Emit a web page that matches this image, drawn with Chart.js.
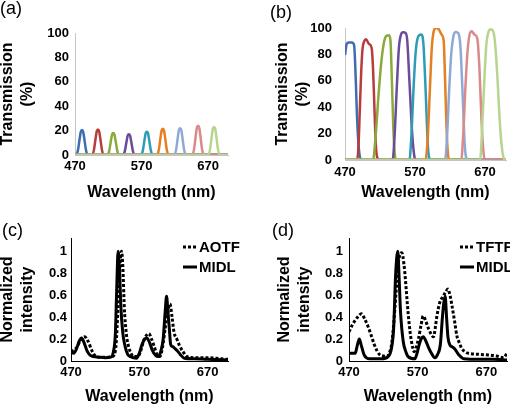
<!DOCTYPE html>
<html>
<head>
<meta charset="utf-8">
<script src="https://cdn.jsdelivr.net/npm/chart.js@4.4.0/dist/chart.umd.min.js"></script>
<style>
  body { margin: 0; background: #fff; width: 510px; height: 409px; position: relative; overflow: hidden;
         font-family: "Liberation Sans", Arial, sans-serif; }
  .panel { position: absolute; }
  .tag { position: absolute; font-size: 18px; line-height: 18px; color: #000; }
</style>
</head>
<body>
<canvas id="pa" class="panel" width="255" height="205" style="left:0;top:0"></canvas>
<canvas id="pb" class="panel" width="255" height="205" style="left:255px;top:0"></canvas>
<canvas id="pc" class="panel" width="255" height="204" style="left:0;top:205px"></canvas>
<canvas id="pd" class="panel" width="255" height="204" style="left:255px;top:205px"></canvas>
<div class="tag" style="left:0;top:-1px">(a)</div>
<div class="tag" style="left:270px;top:3px">(b)</div>
<div class="tag" style="left:2px;top:221px">(c)</div>
<div class="tag" style="left:272px;top:221px">(d)</div>
<script>
// tick labels
const xTicks = [470, 570, 670];
const transTicks = [0, 20, 40, 60, 80, 100];
const normTicks = [0, 0.2, 0.4, 0.6, 0.8, 1];

// one colour per filter band
const bandColors = ['#3e6db0', '#b83c3c', '#8aab3c', '#6c4c9a', '#2f9cb5',
                    '#e67e22', '#8fa9d6', '#d98b8b', '#b7d58f'];

// (a) AOTF transmission bands
const aotfWave = [
  [470, 472, 474.5, 477, 478.7, 480.5, 482.3, 484, 486.5, 489, 700],
  [470, 496, 498.5, 501, 502.7, 504.5, 506.3, 508, 510.5, 513, 700],
  [470, 519, 521.5, 524, 525.7, 527.5, 529.3, 531, 533.5, 536, 700],
  [470, 542.5, 545, 547.5, 549.2, 551, 552.8, 554.5, 557, 559.5, 700],
  [470, 569.5, 572, 574.5, 576.2, 578, 579.8, 581.5, 584, 586.5, 700],
  [470, 593.5, 596, 598.5, 600.2, 602, 603.8, 605.5, 608, 610.5, 700],
  [470, 619.5, 622, 624.5, 626.2, 628, 629.8, 631.5, 634, 636.5, 700],
  [470, 646.5, 649, 651.5, 653.2, 655, 656.8, 658.5, 661, 663.5, 700],
  [470, 670.5, 673, 675.5, 677.2, 679, 680.8, 682.5, 685, 687.5, 700]
];
const aotfTrans = [
  [0, 0, 4.1, 13.3, 19.1, 20.5, 19.1, 13.3, 4.1, 0, 0],
  [0, 0, 4.2, 13.7, 19.5, 21, 19.5, 13.7, 4.2, 0, 0],
  [0, 0, 3.6, 11.7, 16.7, 18, 16.7, 11.7, 3.6, 0, 0],
  [0, 0, 3.4, 11.1, 15.8, 17, 15.8, 11.1, 3.4, 0, 0],
  [0, 0, 3.8, 12.4, 17.7, 19, 17.7, 12.4, 3.8, 0, 0],
  [0, 0, 4.3, 14, 20, 21.5, 20, 14, 4.3, 0, 0],
  [0, 0, 4.4, 14.3, 20.5, 22, 20.5, 14.3, 4.4, 0, 0],
  [0, 0, 4.8, 15.6, 22.3, 24, 22.3, 15.6, 4.8, 0, 0],
  [0, 0, 4.6, 15, 21.4, 23, 21.4, 15, 4.6, 0, 0]
];

// (b) TFTF transmission bands
const tftfWave = [
  [470, 472.5, 475, 480, 483, 485.5, 487, 489, 490.5, 492, 496, 700],
  [470, 487, 489, 491, 493, 495, 497.5, 500, 504, 508, 510, 512, 514, 516, 520, 700],
  [470, 510, 514, 518, 522, 526, 529, 533, 535, 537, 539, 541, 543, 700],
  [470, 538, 541, 544, 547, 550, 553, 557, 559, 562, 566, 569, 571, 700],
  [470, 562, 565, 568, 571, 575, 579, 582, 585, 588, 590, 593, 700],
  [470, 585, 588, 591, 594, 597, 600, 604, 608, 611, 613, 615, 617, 619, 700],
  [470, 613, 616, 619, 622, 625, 628, 632, 635, 638, 641, 643, 646, 700],
  [470, 636, 639, 642, 645, 648, 651, 655, 659, 662, 665, 668, 670, 700],
  [470, 663, 666, 669, 672, 675, 678, 682, 685, 688, 691, 694, 697, 700]
];
const tftfTrans = [
  [79.5, 88, 89, 89, 87, 59, 35, 14, 5, 1, 0, 0],
  [0, 0, 8, 35, 65, 84, 90, 91.5, 88, 85, 70, 40, 12, 2, 0, 0],
  [0, 0, 20, 50, 75, 90, 94, 94.5, 90, 60, 25, 5, 0, 0],
  [0, 0, 20, 55, 85, 95, 96.7, 96, 90, 60, 20, 3, 0, 0],
  [0, 0, 20, 55, 82, 94, 95, 88, 55, 15, 2, 0, 0],
  [0, 0, 15, 50, 85, 98, 100, 99, 95, 90, 60, 25, 5, 0, 0],
  [0, 0, 20, 55, 82, 94, 97, 96, 85, 50, 12, 2, 0, 0],
  [0, 0, 20, 55, 82, 95, 97.5, 95, 92, 70, 30, 5, 0, 0],
  [0, 0, 25, 60, 88, 97, 99, 97, 85, 60, 30, 10, 1, 0]
];

// (c) spectra: AOTF vs MIDL
const cAotfWave = [470, 478, 484, 490, 495, 501, 507, 515, 525, 532, 536, 539, 542, 544, 546, 548, 551, 554, 558, 562,
                   568, 572, 576, 580, 584, 588, 592, 596, 600, 604, 608, 612, 615, 618, 621, 625, 629, 634, 640, 650,
                   670, 690, 700];
const cAotf = [0.085, 0.12, 0.19, 0.22, 0.18, 0.09, 0.04, 0.035, 0.035, 0.045, 0.15, 0.5, 0.9, 1.0, 0.85, 0.5, 0.25, 0.14, 0.07, 0.04,
               0.04, 0.09, 0.175, 0.23, 0.25, 0.2, 0.13, 0.06, 0.04, 0.12, 0.3, 0.45, 0.52, 0.4, 0.26, 0.2, 0.14, 0.085, 0.04, 0.03,
               0.03, 0.02, 0.015];
const cMidlWave = [470, 474, 478, 482, 485.5, 489, 493, 497, 503, 510, 520, 528, 532, 535, 537, 539, 541, 543, 546, 549,
                   553, 557, 566, 570, 574, 578, 581, 585, 589, 594, 598, 602, 605, 608, 610, 612, 614, 616, 619, 622,
                   626, 630, 636, 650, 670, 700];
const cMidl = [0.085, 0.07, 0.11, 0.18, 0.21, 0.17, 0.1, 0.06, 0.04, 0.035, 0.03, 0.035, 0.08, 0.25, 0.66, 1.0, 0.85, 0.5, 0.25, 0.14,
               0.06, 0.04, 0.025, 0.07, 0.15, 0.2, 0.21, 0.17, 0.1, 0.05, 0.04, 0.1, 0.2, 0.45, 0.59, 0.45, 0.3, 0.15, 0.13, 0.115,
               0.09, 0.06, 0.025, 0.02, 0.015, 0.01];

// (d) spectra: TFTF vs MIDL
const dTftfWave = [470, 475, 479, 484, 488, 493, 498, 503, 507, 511, 515, 520, 525, 529, 532, 535, 537, 540, 542, 545,
                   547, 550, 552, 556, 559, 561, 565, 568, 571, 575, 578, 582, 586, 590, 593, 596, 598, 602, 606, 610,
                   614, 617, 620, 624, 627, 631, 634, 640, 644, 660, 673, 685, 695, 700];
const dTftf = [0.265, 0.33, 0.37, 0.41, 0.43, 0.38, 0.31, 0.22, 0.145, 0.09, 0.055, 0.045, 0.04, 0.08, 0.15, 0.33, 0.5, 0.75, 0.9, 0.98,
               0.985, 0.88, 0.75, 0.44, 0.26, 0.175, 0.085, 0.13, 0.2, 0.33, 0.41, 0.36, 0.29, 0.24, 0.22, 0.32, 0.41, 0.53, 0.58, 0.62,
               0.655, 0.6, 0.5, 0.35, 0.23, 0.16, 0.115, 0.08, 0.07, 0.06, 0.055, 0.045, 0.03, 0.07];
const dMidlWave = [470, 479, 482, 485, 488, 492, 500, 517, 527, 532, 535, 538, 541, 543, 545, 549, 553, 556, 566, 569,
                   572, 575, 578, 582, 586, 590, 595, 599, 603, 606, 608, 610, 612, 614, 617, 620, 624, 630, 637, 660,
                   680, 700];
const dMidl = [0.07, 0.07, 0.14, 0.2, 0.14, 0.055, 0.02, 0.02, 0.04, 0.12, 0.3, 0.8, 1.0, 0.75, 0.45, 0.175, 0.08, 0.04, 0.02, 0.07,
               0.145, 0.2, 0.22, 0.18, 0.12, 0.07, 0.03, 0.06, 0.15, 0.4, 0.53, 0.59, 0.4, 0.22, 0.145, 0.13, 0.11, 0.055, 0.02, 0.015,
               0.015, 0.01];

Chart.defaults.font.family = '"Liberation Sans", Arial, Helvetica, sans-serif';
Chart.defaults.color = '#000';

const pts = (xs, ys) => xs.map((x, i) => ({ x: x, y: ys[i] }));

// small legend drawn inside the plot, top right
const cornerLegend = {
  id: 'cornerLegend',
  afterDraw(chart, args, opts) {
    const ctx = chart.ctx;
    ctx.save();
    chart.data.datasets.forEach((ds, i) => {
      const y = opts.y + i * opts.rowH;
      ctx.beginPath();
      ctx.setLineDash(ds.borderDash || []);
      ctx.lineWidth = ds.borderWidth;
      ctx.strokeStyle = ds.borderColor;
      ctx.moveTo(opts.x, y);
      ctx.lineTo(opts.x + opts.len, y);
      ctx.stroke();
      ctx.setLineDash([]);
      ctx.fillStyle = '#000';
      ctx.font = 'bold 15px "Liberation Sans", Arial, sans-serif';
      ctx.textBaseline = 'middle';
      ctx.fillText(ds.label, opts.x + opts.len + 2, y + 1);
    });
    ctx.restore();
  }
};

function makePanel(id, datasets, cfg) {
  new Chart(document.getElementById(id), {
    type: 'line',
    data: { datasets: datasets },
    plugins: cfg.legend ? [cornerLegend] : [],
    options: {
      responsive: false,
      animation: false,
      layout: { padding: cfg.pad },
      elements: { point: { radius: 0 }, line: { cubicInterpolationMode: 'monotone' } },
      plugins: {
        legend: { display: false },
        tooltip: { enabled: false },
        cornerLegend: cfg.legend || {}
      },
      scales: {
        x: {
          type: 'linear', min: 470, max: 700,
          afterBuildTicks: s => { s.ticks = xTicks.map(v => ({ value: v })); },
          afterFit: s => { s.height = cfg.xH; },
          grid: { display: false, drawTicks: false },
          border: { display: true, color: cfg.axisColor, width: 1 },
          ticks: { padding: cfg.xPad, maxRotation: 0, autoSkip: false, font: { size: 13, weight: 'bold' } },
          title: { display: true, text: 'Wavelength (nm)', font: { size: 16, weight: 'bold', lineHeight: 1.25 },
                   padding: { top: 0, bottom: 2 } }
        },
        y: {
          min: 0, max: cfg.yMax,
          afterBuildTicks: s => { s.ticks = cfg.yTicks.map(v => ({ value: v })); },
          afterFit: s => { s.width = cfg.yW; },
          grid: { display: false, drawTicks: false },
          border: { display: true, color: cfg.axisColor, width: 1 },
          ticks: { padding: cfg.yPad, font: { size: 13, weight: 'bold' }, callback: cfg.yFmt },
          title: { display: true, text: cfg.yTitle, font: { size: 16, weight: 'bold', lineHeight: 1.25 },
                   padding: { top: cfg.yTitlePad, bottom: 0 } }
        }
      }
    }
  });
}

function bandSets(waves, vals) {
  return waves.map((w, i) => ({
    data: pts(w, vals[i]),
    borderColor: bandColors[i],
    borderWidth: 2.5,
    fill: false,
    order: waves.length - i
  }));
}

const normFmt = v => (v === 0 ? '0' : v === 1 ? '1' : v.toFixed(1));

makePanel('pa', bandSets(aotfWave, aotfTrans), {
  pad: { left: 0, top: 33, right: 27, bottom: 0 }, xH: 50, yW: 75, xPad: 4, yPad: 6,
  yMax: 100, yTicks: transTicks, yTitle: ['Transmission', '(%)'], yTitlePad: -2, axisColor: '#c4c4c4'
});
makePanel('pb', bandSets(tftfWave, tftfTrans), {
  pad: { left: 0, top: 28, right: 4, bottom: 0 }, xH: 45, yW: 90, xPad: 5, yPad: 13,
  yMax: 100, yTicks: transTicks, yTitle: ['Transmission', '(%)'], yTitlePad: 18, axisColor: '#c4c4c4'
});
makePanel('pc', [
  { label: 'AOTF', data: pts(cAotfWave, cAotf), borderColor: '#000', borderWidth: 3, borderDash: [3, 2], fill: false },
  { label: 'MIDL', data: pts(cMidlWave, cMidl), borderColor: '#000', borderWidth: 3, fill: false }
], {
  pad: { left: 0, top: 33, right: 27, bottom: 0 }, xH: 48, yW: 71, xPad: 4, yPad: 4,
  yMax: 1.12, yTicks: normTicks, yFmt: normFmt, yTitle: ['Normalized', 'intensity'], yTitlePad: -2, axisColor: '#000',
  legend: { x: 183, y: 42, rowH: 20, len: 14 }
});
makePanel('pd', [
  { label: 'TFTF', data: pts(dTftfWave, dTftf), borderColor: '#000', borderWidth: 3, borderDash: [3, 2], fill: false },
  { label: 'MIDL', data: pts(dMidlWave, dMidl), borderColor: '#000', borderWidth: 3, fill: false }
], {
  pad: { left: 0, top: 33, right: 3, bottom: 0 }, xH: 48, yW: 94, xPad: 4, yPad: 6,
  yMax: 1.12, yTicks: normTicks, yFmt: normFmt, yTitle: ['Normalized', 'intensity'], yTitlePad: 20, axisColor: '#000',
  legend: { x: 205, y: 42, rowH: 20, len: 14 }
});
</script>
</body>
</html>
